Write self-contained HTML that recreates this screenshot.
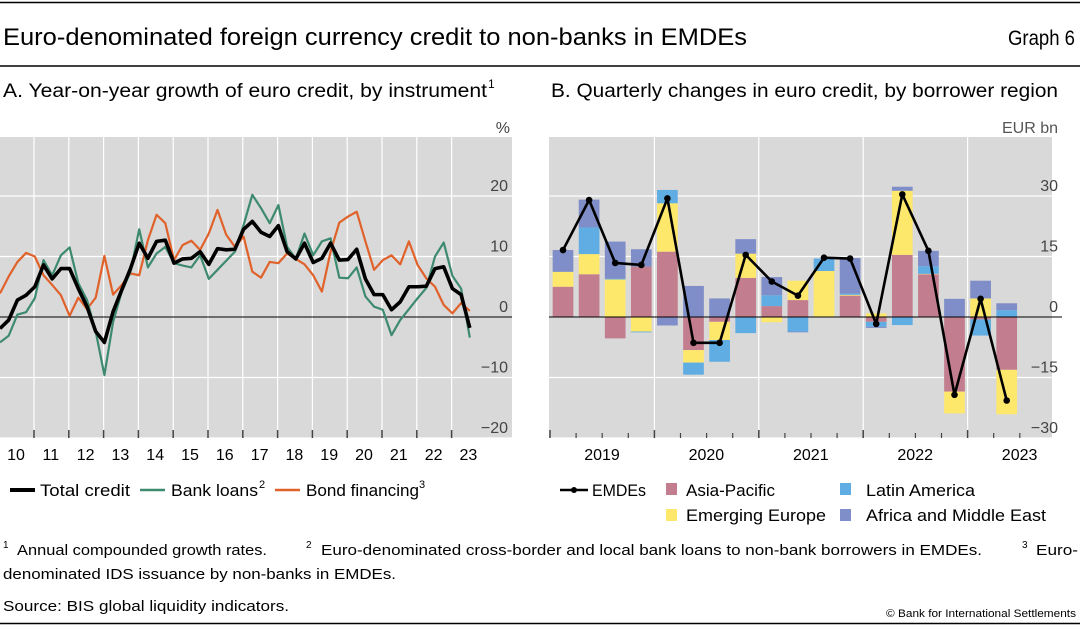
<!DOCTYPE html>
<html><head><meta charset="utf-8"><style>
html,body{margin:0;padding:0;background:#fff;}
svg{display:block;font-family:"Liberation Sans",sans-serif;}
</style></head><body>
<svg id="root" width="1080" height="627" viewBox="0 0 1080 627" xmlns="http://www.w3.org/2000/svg">
<line x1="0" y1="2.5" x2="1080" y2="2.5" stroke="#000" stroke-width="1.5"/>
<text x="3" y="45" font-size="24" textLength="744" lengthAdjust="spacingAndGlyphs" fill="#000">Euro-denominated foreign currency credit to non-banks in EMDEs</text>
<text x="1008" y="45" font-size="21" textLength="67" lengthAdjust="spacingAndGlyphs" fill="#000">Graph 6</text>
<line x1="0" y1="66" x2="1080" y2="66" stroke="#000" stroke-width="1.5"/>
<text x="3" y="97" font-size="19" textLength="484" lengthAdjust="spacingAndGlyphs">A. Year-on-year growth of euro credit, by instrument</text>
<text x="488" y="88" font-size="12">1</text>
<text x="551" y="97" font-size="19" textLength="507" lengthAdjust="spacingAndGlyphs">B. Quarterly changes in euro credit, by borrower region</text>

<g id="chartA"></g>
<g id="chartB"></g>

<g>
<line x1="10" y1="490" x2="35" y2="490" stroke="#000" stroke-width="4"/>
<text x="40" y="496" font-size="16.5" textLength="90" lengthAdjust="spacingAndGlyphs">Total credit</text>
<line x1="140" y1="490" x2="165" y2="490" stroke="#3d8a6e" stroke-width="2.5"/>
<text x="171" y="496" font-size="16.5" textLength="87" lengthAdjust="spacingAndGlyphs">Bank loans</text>
<text x="259" y="488" font-size="11">2</text>
<line x1="275" y1="490" x2="300" y2="490" stroke="#e0622a" stroke-width="2.5"/>
<text x="306" y="496" font-size="16.5" textLength="113" lengthAdjust="spacingAndGlyphs">Bond financing</text>
<text x="419" y="488" font-size="11">3</text>
</g>
<g>
<line x1="560" y1="490" x2="588" y2="490" stroke="#000" stroke-width="2.5"/>
<circle cx="574" cy="490" r="3" fill="#000"/>
<text x="592" y="496" font-size="16.5" textLength="54" lengthAdjust="spacingAndGlyphs">EMDEs</text>
<rect x="666" y="483" width="11" height="12" fill="#c27e8e"/>
<text x="686" y="496" font-size="16.5" textLength="89" lengthAdjust="spacingAndGlyphs">Asia-Pacific</text>
<rect x="840" y="483" width="11" height="12" fill="#5fade3"/>
<text x="866" y="496" font-size="16.5" textLength="109" lengthAdjust="spacingAndGlyphs">Latin America</text>
<rect x="666" y="509" width="11" height="12" fill="#fde86c"/>
<text x="686" y="521" font-size="16.5" textLength="140" lengthAdjust="spacingAndGlyphs">Emerging Europe</text>
<rect x="840" y="509" width="11" height="12" fill="#7f8dc8"/>
<text x="866" y="521" font-size="16.5" textLength="180" lengthAdjust="spacingAndGlyphs">Africa and Middle East</text>
</g>

<g font-size="15">
<text x="3" y="548" font-size="10">1</text>
<text x="17" y="555" textLength="250" lengthAdjust="spacingAndGlyphs">Annual compounded growth rates.</text>
<text x="306" y="548" font-size="10">2</text>
<text x="321" y="555" textLength="661" lengthAdjust="spacingAndGlyphs">Euro-denominated cross-border and local bank loans to non-bank borrowers in EMDEs.</text>
<text x="1022" y="548" font-size="10">3</text>
<text x="1036" y="555" textLength="42" lengthAdjust="spacingAndGlyphs">Euro-</text>
<text x="3" y="579" textLength="393" lengthAdjust="spacingAndGlyphs">denominated IDS issuance by non-banks in EMDEs.</text>
<text x="3" y="611" textLength="286" lengthAdjust="spacingAndGlyphs">Source: BIS global liquidity indicators.</text>
</g>
<text x="886" y="617" font-size="11" textLength="190" lengthAdjust="spacingAndGlyphs">© Bank for International Settlements</text>
<line x1="0" y1="623.5" x2="1080" y2="623.5" stroke="#000" stroke-width="1.5"/>
</svg>
<script>
// ---- Panel A data ----
const yearLabelsA = ["10","11","12","13","14","15","16","17","18","19","20","21","22","23"];
const totalCredit = [-1.9,-0.5,2.8,3.6,5.0,8.6,6.3,8.0,8.0,4.7,1.7,-2.4,-4.2,0.9,4.5,8.0,12.2,9.7,12.5,12.7,8.9,9.6,9.7,10.8,8.7,11.3,11.1,11.2,14.5,15.8,14.0,13.3,15.1,10.8,9.6,12.2,9.0,9.7,12.2,9.4,9.5,11.2,6.3,3.7,3.7,1.2,2.5,5.0,5.0,5.1,8.0,8.3,4.7,3.7,-1.8];
const bankLoans = [-4.2,-3.1,0.4,0.8,3.1,9.4,6.9,10.2,11.5,5.6,2.8,-2.4,-9.6,-0.8,4.2,7.5,14.5,8.2,10.5,11.6,8.9,8.5,8.2,10.2,6.3,7.8,9.3,10.8,15.2,20.2,18.0,15.5,18.5,11.6,9.6,13.8,10.2,12.5,13.0,6.5,6.4,8.2,3.4,1.7,1.2,-3.0,-0.5,1.3,3.1,4.8,10.0,12.3,6.8,4.7,-3.4];
const bondFinancing = [3.9,6.7,9.1,10.6,10.0,6.9,5.3,3.6,0.2,3.2,1.3,3.2,10.1,3.7,5.3,7.2,6.9,12.7,16.9,15.5,9.4,11.9,12.6,11.1,13.8,17.7,13.6,11.6,13.3,7.5,6.5,9.1,8.9,10.5,9.6,8.7,6.9,4.2,10.8,15.6,16.6,17.4,12.5,7.8,9.4,10.2,8.7,12.5,8.6,6.4,5.0,2.0,0.6,2.3,1.0];
const ticksA = [20,10,0,-10,-20];
// ---- Panel B data ----
const yearLabelsB = ["2019","2020","2021","2022","2023"];
const asiaPacific = [7.5,10.6,-5.3,12.5,16.2,-8.2,-1.2,9.7,2.7,4.2,0,5.3,-1.2,15.4,10.6,-18.5,-0.6,-13.1];
const emergingEurope = [3.7,5.0,9.3,-3.6,12.0,-3.1,-4.5,6.0,-1.3,4.8,11.4,0.2,0.9,15.9,0.1,-5.4,4.6,-11.0];
const latinAmerica = [0,6.6,0.2,-0.2,3.3,-3.0,-5.4,-4.0,2.7,-3.6,3.1,0.3,-1.2,-2.0,1.9,0,-4.0,1.7];
const africaMiddleEast = [5.4,6.9,9.2,4.3,-2.1,7.7,4.6,3.6,4.5,-0.2,0,8.8,-0.3,1.0,3.8,4.5,4.4,1.7];
const emdes = [16.6,29.0,13.4,12.9,29.4,-6.4,-6.4,15.4,8.8,5.3,14.7,14.5,-1.7,30.4,16.4,-19.3,4.5,-20.7];
const ticksB = [30,15,0,-15,-30];

const NS="http://www.w3.org/2000/svg";
function mk(parent,tag,attrs){const e=document.createElementNS(NS,tag);for(const k in attrs)e.setAttribute(k,attrs[k]);parent.appendChild(e);return e;}

// Panel A
(function(){
  const g=document.getElementById('chartA');
  const L=0,R=512,T=137,B=438;
  const yA=v=>317-v*6.05;
  const qW=8.7, yearW=34.8;
  const xA=i=>L+i*qW;
  const bg=mk(g,'rect',{x:L,y:T,width:R-L,height:B-T,fill:'#d9d9d9'});
  
  
  ticksA.forEach(t=>{
    if(t!==0){const gl=mk(g,'line',{x1:L,x2:R,y1:yA(t),y2:yA(t),stroke:'#fff','stroke-width':1.2});
    
    }
    const tx=mk(g,'text',{x:508,y:yA(t)-5,'font-size':16,'text-anchor':'end',fill:'#444'});
    tx.textContent=t<0?'\u2212'+Math.abs(t):String(t);
    
    
  });
  const pct=mk(g,'text',{x:510,y:133,'font-size':16,'text-anchor':'end',fill:'#444'});pct.textContent='%';
  
  
  yearLabelsA.forEach((lab,k)=>{
    if(k>0){const x=L+k*yearW-0.8;
      const vl=mk(g,'line',{x1:x,x2:x,y1:T,y2:B,stroke:'#fff','stroke-width':1.2});
      
      
      const tk=mk(g,'line',{x1:x,x2:x,y1:430,y2:438,stroke:'#444','stroke-width':1.5});
      
      }
    const tx=mk(g,'text',{x:L+k*yearW+16,y:460,'font-size':16,'text-anchor':'middle',fill:'#000'});
    tx.textContent=lab;
    
    
  });
  const z=mk(g,'line',{x1:L,x2:R,y1:yA(0),y2:yA(0),stroke:'#000','stroke-width':1});
  
  
  function series(arr,color,w,name){
    const p=mk(g,'polyline',{points:arr.map((v,i)=>xA(i)+','+yA(v)).join(' '),fill:'none',stroke:color,'stroke-width':w,'stroke-linejoin':'round'});
    
    
  }
  series(bondFinancing,'#e0622a',2.2,'bond-financing-line');
  series(bankLoans,'#3d8a6e',2.2,'bank-loans-line');
  series(totalCredit,'#000',3.6,'total-credit-line');
})();

// Panel B
(function(){
  const g=document.getElementById('chartB');
  const L=549,R=1052,T=137,B=438;
  const yB=v=>317-v*(60.5/15);
  const qW=26.1, x0=550;
  const xc=i=>x0+13+i*qW;
  const bw=20.7;
  const bg=mk(g,'rect',{x:L,y:T,width:R-L,height:B-T,fill:'#d9d9d9'});
  
  
  ticksB.forEach(t=>{
    if(t!==0){const gl=mk(g,'line',{x1:L,x2:R,y1:yB(t),y2:yB(t),stroke:'#fff','stroke-width':1.2});
    
    }
    const tx=mk(g,'text',{x:1058,y:yB(t)-5,'font-size':16,'text-anchor':'end',fill:'#444'});
    tx.textContent=t<0?'\u2212'+Math.abs(t):String(t);
    
    
  });
  const un=mk(g,'text',{x:1058,y:133,'font-size':16,'text-anchor':'end',fill:'#555'});un.textContent='EUR bn';
  
  
  for(let q=0;q<=18;q++){
    const x=x0+q*qW;const major=q%4===0;
    if(major&&q>0){const vl=mk(g,'line',{x1:x,x2:x,y1:T,y2:B,stroke:'#fff','stroke-width':1.2});
      
      }
    const tk=mk(g,'line',{x1:x,x2:x,y1:major?430:433,y2:438,stroke:'#444','stroke-width':major?1.5:1.2});
    
    
  }
  yearLabelsB.forEach((lab,k)=>{
    const tx=mk(g,'text',{x:x0+k*4*qW+52,y:460,'font-size':16,'text-anchor':'middle',fill:'#000'});
    tx.textContent=lab;
    
    
  });
  const stacks=[[asiaPacific,'#c27e8e','asia-pacific-bar'],[emergingEurope,'#fde86c','emerging-europe-bar'],[latinAmerica,'#5fade3','latin-america-bar'],[africaMiddleEast,'#7f8dc8','africa-middle-east-bar']];
  for(let i=0;i<emdes.length;i++){
    let pos=0,neg=0;
    stacks.forEach(([arr,col,name])=>{
      const v=arr[i];if(!v)return;
      let a,b;
      if(v>0){a=pos;b=pos+v;pos=b;}else{a=neg;b=neg+v;neg=b;}
      const y1=yB(Math.max(a,b)),y2=yB(Math.min(a,b));
      const r=mk(g,'rect',{x:xc(i)-bw/2,y:y1,width:bw,height:y2-y1,fill:col});
      
      
    });
  }
  const z=mk(g,'line',{x1:L,x2:R+10,y1:yB(0),y2:yB(0),stroke:'#000','stroke-width':1});
  
  
  const pl=mk(g,'polyline',{points:emdes.map((v,i)=>xc(i)+','+yB(v)).join(' '),fill:'none',stroke:'#000','stroke-width':2.6,'stroke-linejoin':'round'});
  
  
  emdes.forEach((v,i)=>{
    const c=mk(g,'circle',{cx:xc(i),cy:yB(v),r:3.3,fill:'#000'});
    
    
  });
})();
</script>
</body></html>
